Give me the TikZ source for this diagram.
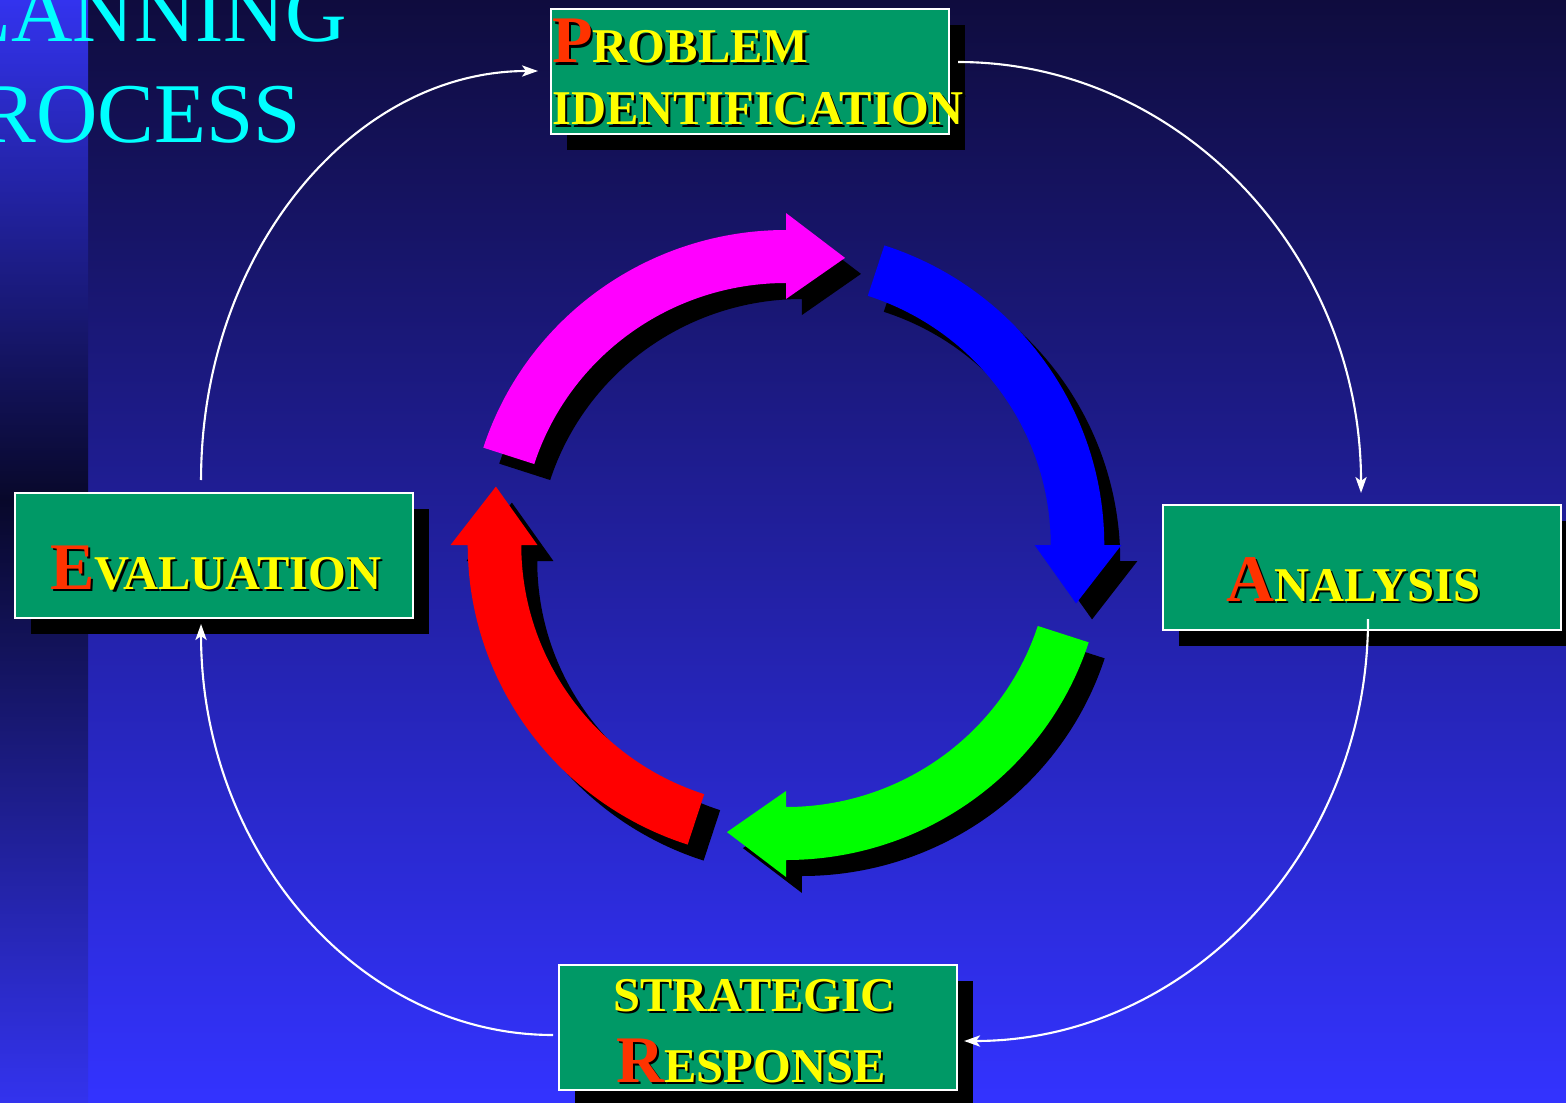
\documentclass[tikz,border=0pt]{standalone}
\usepackage{fontspec}
\setmainfont{Liberation Serif}
\usetikzlibrary{arrows.meta,shadows,calc}
\definecolor{boxgreen}{HTML}{009966}
\definecolor{initred}{HTML}{FF3300}
\definecolor{bgtop}{HTML}{0F0C3E}
\definecolor{bgbot}{HTML}{3333FF}
\definecolor{striptop}{HTML}{3333EE}
\definecolor{stripmid}{HTML}{08082A}
\definecolor{lblyellow}{HTML}{FFFF00}
\definecolor{titlecyan}{HTML}{00FFFF}
\definecolor{ringmag}{HTML}{FF00FF}
\definecolor{ringblue}{HTML}{0000FF}
\definecolor{ringgreen}{HTML}{00FF00}
\definecolor{ringred}{HTML}{FF0000}
\newcommand\capw[4]{{\color{#1}\fontsize{47.3}{47}\selectfont #3}{\color{#2}\fontsize{34.5}{34}\selectfont #4}}
\def\ringpath#1#2{(#1:315) arc[start angle=#1, end angle=#2, radius=315] -- (#2:332) -- ({#2-11.5}:293) -- (#2:246) -- (#2:262) arc[start angle=#2, end angle=#1, radius=262] -- cycle}
\tikzset{
  stagebox/.style={draw=white, line width=1.4pt, fill=boxgreen, minimum width=9.95cm, minimum height=3.125cm, inner sep=0pt, anchor=north west, drop shadow={shadow xshift=0.4cm, shadow yshift=-0.4cm, opacity=1, fill=black}},
  lbl/.style={anchor=base west, inner sep=0pt, font=\bfseries},
  lblsh/.style={lbl, xshift=0.06cm, yshift=-0.06cm},
  ttl/.style={anchor=base west, inner sep=0pt, text=titlecyan, font=\fontsize{60.5}{60}\selectfont},
  conn/.style={white, line width=1.5pt, -{Stealth[length=0.4cm, width=0.28cm, inset=0.1cm]}},
}
\begin{document}
\begin{tikzpicture}[x=0.025cm, y=-0.025cm]
\useasboundingbox (0,0) rectangle (1566,1103);
\clip (0,0) rectangle (1566,1103);
% background
\shade[top color=bgtop, bottom color=bgbot] (0,0) rectangle (1566,1103);
\shade[top color=striptop, bottom color=stripmid] (0,0) rectangle (88,500);
\shade[top color=stripmid, bottom color=striptop] (0,499) rectangle (88,1103);
% title
\node[ttl] (t1) at (-41,42) {LANNING};
\node[ttl] (t2) at (-21,143) {ROCESS};
% ring arrows
\begin{scope}[shift={(786,545)}, x=0.02525cm, y=0.025cm]
  \fill[black, shift={(15.8,-16)}] \ringpath{162}{90};
  \fill[black, shift={(15.8,-16)}] \ringpath{72}{0};
  \fill[black, shift={(15.8,-16)}] \ringpath{-18}{-90};
  \fill[black, shift={(15.8,-16)}] \ringpath{-108}{-180};
  \fill[ringmag] \ringpath{162}{90};
  \fill[ringblue] \ringpath{72}{0};
  \fill[ringgreen] \ringpath{-18}{-90};
  \fill[ringred] \ringpath{-108}{-180};
\end{scope}
% boxes
\node[stagebox] (pi) at (550,8) {};
\node[stagebox] (ev) at (14,492) {};
\node[stagebox] (an) at (1162,504) {};
\node[stagebox] (sr) at (558,964) {};
% labels
\node[lblsh] (pi1s) at (552,63) {\capw{black}{black}{P}{ROBLEM}};
\node[lbl] (pi1) at (552,63) {\capw{initred}{lblyellow}{P}{ROBLEM}};
\node[lblsh] (pi2s) at (552,125) {\capw{black}{black}{}{IDENTIFICATION}};
\node[lbl] (pi2) at (552,125) {\capw{initred}{lblyellow}{}{IDENTIFICATION}};
\node[lblsh] (evs) at (50,589) {\capw{black}{black}{E}{VALUATION}};
\node[lbl] (evl) at (50,589) {\capw{initred}{lblyellow}{E}{VALUATION}};
\node[lblsh] (ans) at (1226,601) {\capw{black}{black}{A}{NALYSIS}};
\node[lbl] (anl) at (1226,601) {\capw{initred}{lblyellow}{A}{NALYSIS}};
\node[lblsh] (sr1s) at (613,1011) {\capw{black}{black}{}{STRATEGIC}};
\node[lbl] (sr1) at (613,1011) {\capw{initred}{lblyellow}{}{STRATEGIC}};
\node[lblsh] (sr2s) at (616,1082) {\capw{black}{black}{R}{ESPONSE}};
\node[lbl] (sr2) at (616,1082) {\capw{initred}{lblyellow}{R}{ESPONSE}};
% connectors
\coordinate (c1s) at ([shift={(8,54)}]pi.north east);
\coordinate (c1e) at ([shift={(-1,-11)}]an.north);
\coordinate (c2s) at ([shift={(6,-12)}]an.south);
\coordinate (c2e) at ([shift={(6,13.5)}]sr.east);
\coordinate (c3s) at ([shift={(-5,7.5)}]sr.west);
\coordinate (c3e) at ([shift={(-13,5)}]ev.south);
\coordinate (c4s) at ([shift={(-13,-12)}]ev.north);
\coordinate (c4e) at ([shift={(-12,-0.5)}]pi.west);
\draw[conn] (c1s) .. controls ($(c1s)!0.5523!(c1e |- c1s)$) and ($(c1e)!0.5523!(c1e |- c1s)$) .. (c1e);
\draw[conn] (c2s) .. controls ($(c2s)!0.5523!(c2s |- c2e)$) and ($(c2e)!0.5523!(c2s |- c2e)$) .. (c2e);
\draw[conn] (c3s) .. controls ($(c3s)!0.5523!(c3e |- c3s)$) and ($(c3e)!0.5523!(c3e |- c3s)$) .. (c3e);
\draw[conn] (c4s) .. controls ($(c4s)!0.5523!(c4s |- c4e)$) and ($(c4e)!0.5523!(c4s |- c4e)$) .. (c4e);
\end{tikzpicture}
\end{document}
